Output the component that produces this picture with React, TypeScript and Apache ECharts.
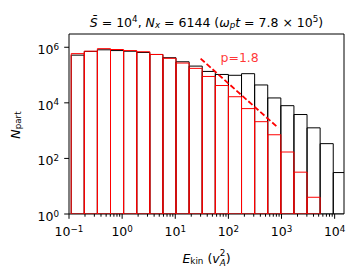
import React, { useEffect, useRef } from 'react';
import * as echarts from 'echarts';

// ---- data ----
const binEdges = [0.110, 0.194, 0.3424, 0.6045, 1.066, 1.882, 3.320, 5.857, 10.33, 18.24, 32.18, 56.77, 100.2, 176.7, 311.9, 550.3, 971, 1713, 3022, 5333, 9409, 16600];
const blackCounts = [5.2e5, 7.1e5, 8.1e5, 7.6e5, 7.2e5, 6.5e5, 5.5e5, 4.2e5, 3.0e5, 2.1e5, 1.35e5, 1.05e5, 9.8e4, 1.12e5, 4.4e4, 1.5e4, 7.9e3, 3.8e3, 1.26e3, 340, 31];
const redCounts = [5.9e5, 7.2e5, 8.9e5, 8.3e5, 7.6e5, 6.9e5, 5.5e5, 4.0e5, 2.7e5, 1.74e5, 8.9e4, 4.2e4, 1.66e4, 6.2e3, 2.1e3, 710, 170, 32, 4, 0, 0];
const fitLine = [[30, 3.9e5], [870, 1.25e3]];
const fitLabel = 'p=1.8';
const fitLabelAt = [71, 4.2e5];
const xRange = [0.1, 1.5e4];
const yRange = [1, 3e6];
const xMajorTicks = [0.1, 1, 10, 100, 1000, 10000];
const xMinorTicks = [
  0.2, 0.3, 0.4, 0.5, 0.6, 0.7, 0.8, 0.9,
  2, 3, 4, 5, 6, 7, 8, 9,
  20, 30, 40, 50, 60, 70, 80, 90,
  200, 300, 400, 500, 600, 700, 800, 900,
  2000, 3000, 4000, 5000, 6000, 7000, 8000, 9000,
];
const yMajorTicks = [1, 100, 1e4, 1e6];

const FONT = 'DejaVu Sans';
const FS = 12.5;
const SFS = 8.75;

const baseRich: any = {
  n: { fontFamily: FONT, fontSize: FS, lineHeight: 15, color: '#000' },
  i: { fontFamily: FONT, fontSize: FS, lineHeight: 15, color: '#000', fontStyle: 'italic' },
  sp: { fontFamily: FONT, fontSize: SFS, lineHeight: 9, verticalAlign: 'top', color: '#000' },
  sb: { fontFamily: FONT, fontSize: SFS, lineHeight: 9, verticalAlign: 'bottom', color: '#000' },
  sbi: { fontFamily: FONT, fontSize: SFS, lineHeight: 9, verticalAlign: 'bottom', color: '#000', fontStyle: 'italic' },
};

function powLabel(v: number, evenOnly: boolean) {
  const e = Math.log10(v);
  const r = Math.round(e);
  if (Math.abs(e - r) > 1e-6) return '';
  if (evenOnly && r % 2 !== 0) return '';
  return `{n|10}{sp|${r < 0 ? '\u2212' : ''}${Math.abs(r)}}`;
}

function histSeries(counts: number[], color: string) {
  return {
    type: 'custom',
    clip: true,
    data: counts.map((c, i) => [binEdges[i], binEdges[i + 1], c]),
    encode: { x: [0, 1], y: 2 },
    renderItem: (params: any, api: any) => {
      const c = api.value(2);
      if (!(c > 0)) return null;
      const p0 = api.coord([api.value(0), c]);
      const p1 = api.coord([api.value(1), yRange[0]]);
      return {
        type: 'rect',
        shape: { x: p0[0], y: p0[1], width: p1[0] - p0[0], height: p1[1] - p0[1] },
        style: { fill: 'none', stroke: color, lineWidth: 1 },
      };
    },
  };
}

function tickSeries(values: number[], axis: 'x' | 'y', len: number) {
  return {
    type: 'custom',
    clip: false,
    silent: true,
    data: values.map((v) => (axis === 'x' ? [v, yRange[0]] : [xRange[0], v])),
    encode: { x: 0, y: 1 },
    renderItem: (params: any, api: any) => {
      const p = api.coord([api.value(0), api.value(1)]);
      const shape =
        axis === 'x'
          ? { x1: p[0], y1: p[1], x2: p[0], y2: p[1] + len }
          : { x1: p[0] - len, y1: p[1], x2: p[0], y2: p[1] };
      return { type: 'line', shape, style: { stroke: '#000', lineWidth: 1 } };
    },
  };
}

function measure(style: any) {
  const t = new (echarts.graphic as any).Text({ style });
  return t.getBoundingRect().width;
}

export default function App() {
  const ref = useRef<HTMLDivElement>(null);
  useEffect(() => {
    document.body.style.margin = '0';
    const chart = echarts.init(ref.current!, null, { renderer: 'svg' });

    // x-axis name: E_kin (v_A^2), with the 2 stacked over the A
    const prefix = '{i|E}{sb|kin}{n| (}{i|v}';
    const supStyle = { text: '2', fontFamily: FONT, fontSize: SFS };
    const subStyle = { text: 'A', fontFamily: FONT, fontSize: SFS, fontStyle: 'italic' };
    const parenStyle = { text: ')', fontFamily: FONT, fontSize: FS };
    const wPre = measure({ text: prefix, rich: baseRich });
    const wScript = Math.max(measure(supStyle), measure(subStyle));
    const wParen = measure(parenStyle);
    const cx = 206.5;
    const cy = 258;
    const left = cx - (wPre + wScript + wParen) / 2;

    chart.setOption({
      animation: false,
      grid: { left: 69, top: 34, right: 12, bottom: 66, show: true, borderColor: '#000', borderWidth: 1, backgroundColor: 'transparent' },
      xAxis: {
        type: 'log',
        logBase: 10,
        min: xRange[0],
        max: xRange[1],
        axisLine: { show: false },
        axisTick: { show: false },
        splitLine: { show: false },
        minorTick: { show: false },
        axisLabel: {
          margin: 10,
          formatter: (v: number) => powLabel(v, false),
          rich: baseRich,
          showMinLabel: true,
          showMaxLabel: true,
        },
      },
      yAxis: {
        type: 'log',
        logBase: 10,
        min: yRange[0],
        max: yRange[1],
        axisLine: { show: false },
        axisTick: { show: false },
        splitLine: { show: false },
        minorTick: { show: false },
        axisLabel: {
          margin: 10,
          padding: [5, 0, 0, 0],
          formatter: (v: number) => powLabel(v, true),
          rich: baseRich,
        },
      },
      graphic: [
        {
          type: 'text',
          x: 206.5,
          y: 22,
          style: {
            text: '{i|S\u0304}{n| = 10}{sp|4}{n|, }{i|N}{sbi|x}{n| = 6144 (}{i|\u03c9}{sbi|p}{i|t}{n| = 7.8 \u00d7 10}{sp|5}{n|)}',
            rich: baseRich,
            align: 'center',
            verticalAlign: 'middle',
          },
        },
        {
          type: 'text',
          x: left,
          y: cy,
          style: { text: prefix, rich: baseRich, align: 'left', verticalAlign: 'middle' },
        },
        {
          type: 'text',
          x: left + wPre,
          y: cy - 5,
          style: { ...supStyle, fill: '#000', align: 'left', verticalAlign: 'middle' },
        },
        {
          type: 'text',
          x: left + wPre,
          y: cy + 4.5,
          style: { ...subStyle, fill: '#000', align: 'left', verticalAlign: 'middle' },
        },
        {
          type: 'text',
          x: left + wPre + wScript,
          y: cy,
          style: { ...parenStyle, fill: '#000', align: 'left', verticalAlign: 'middle' },
        },
        {
          type: 'text',
          x: 15,
          y: 125,
          rotation: Math.PI / 2,
          style: { text: '{i|N}{sb|part}', rich: baseRich, align: 'center', verticalAlign: 'middle' },
        },
      ],
      series: [
        histSeries(blackCounts, '#000000'),
        histSeries(redCounts, '#ff0000'),
        {
          type: 'line',
          data: fitLine,
          showSymbol: false,
          symbol: 'none',
          lineStyle: { color: '#ff0000', width: 1.8, type: [5.5, 2.5] },
          z: 5,
        },
        {
          type: 'scatter',
          data: [fitLabelAt],
          symbolSize: 0,
          label: {
            show: true,
            formatter: fitLabel,
            position: 'right',
            distance: 0,
            color: '#ff0000',
            fontFamily: FONT,
            fontSize: FS,
          },
          z: 6,
        },
        tickSeries(xMajorTicks, 'x', 4.8),
        tickSeries(xMinorTicks, 'x', 2.7),
        tickSeries(yMajorTicks, 'y', 4.8),
      ],
    });
    return () => chart.dispose();
  }, []);
  return <div ref={ref} style={{ width: 356, height: 280 }} />;
}
